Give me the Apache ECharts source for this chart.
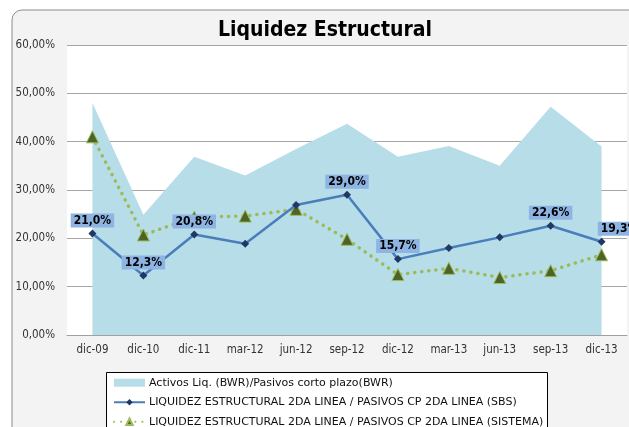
<!DOCTYPE html>
<html>
<head>
<meta charset="utf-8">
<script src="https://cdn.jsdelivr.net/npm/echarts@6/dist/echarts.min.js"></script>
<style>
  html, body { margin: 0; padding: 0; background: #fff; }
  #liq_chart { width: 629px; height: 427px; }
</style>
</head>
<body>
<div id="liq_chart"></div>
<script>
// Periods on the x axis
const periods = ['dic-09', 'dic-10', 'dic-11', 'mar-12', 'jun-12', 'sep-12', 'dic-12', 'mar-13', 'jun-13', 'sep-13', 'dic-13'];
// Activos Liq. (BWR)/Pasivos corto plazo(BWR) - shaded area
const activosBwr = [48.0, 24.9, 36.9, 33.0, 38.5, 43.7, 36.9, 39.1, 35.0, 47.2, 39.0];
// SBS line
const liqSbs = [21.0, 12.3, 20.8, 18.9, 26.9, 29.0, 15.7, 18.0, 20.2, 22.6, 19.3];
// Sistema line
const liqSistema = [41.0, 20.7, 24.4, 24.6, 26.0, 19.8, 12.5, 13.8, 11.9, 13.3, 16.6];
// which SBS points carry a value label
const labelled = [true, true, true, false, false, true, true, false, false, true, true];

const yTicks = { min: 0, max: 60, step: 10 };

const FONT = "'DejaVu Sans Condensed', 'DejaVu Sans', sans-serif";
const pct = (v, d) => v.toFixed(d).replace('.', ',') + '%';

const names = [
    'Activos Liq. (BWR)/Pasivos corto plazo(BWR)',
    'LIQUIDEZ ESTRUCTURAL 2DA LINEA / PASIVOS CP 2DA LINEA (SBS)',
    'LIQUIDEZ ESTRUCTURAL 2DA LINEA / PASIVOS CP 2DA LINEA (SISTEMA)'
];

// SBS points, labels only where the original shows them
let sbsData = liqSbs.map((v, i) => {
    let pt = { value: v };
    if (!labelled[i]) pt.label = { show: false };
    if (i === periods.length - 1) pt.label = { show: true, offset: [18, 0] };
    return pt;
});

const option = {
    animation: false,
    backgroundColor: '#fff',
    graphic: [
        {   // chart frame
            type: 'rect', z: -10,
            shape: { x: 12, y: 10, width: 660, height: 460, r: 10 },
            style: { fill: '#f3f3f3', stroke: '#8c8c8c', lineWidth: 1 }
        },
        {   // legend box
            type: 'rect', z: 5,
            shape: { x: 106.5, y: 372.5, width: 441, height: 80 },
            style: { fill: '#fff', stroke: '#000', lineWidth: 1 }
        }
    ],
    title: {
        text: 'Liquidez Estructural',
        left: 325, top: 20, padding: 0, textAlign: 'center',
        textStyle: { fontFamily: FONT, fontSize: 21, fontWeight: 'bold', color: '#000' }
    },
    legend: {
        orient: 'vertical',
        left: 113, top: 376, height: 90, padding: 0, z: 10,
        itemWidth: 31, itemHeight: 8, itemGap: 6,
        textStyle: {
            fontFamily: "'DejaVu Sans', sans-serif", fontSize: 11, color: '#111',
            lineHeight: 13.5, padding: [0, 0, 0, -1]
        },
        data: [
            { name: names[0], icon: 'rect', itemStyle: { color: '#b7dde8' } },
            { name: names[1] },
            { name: names[2] }
        ]
    },
    grid: {
        left: 67, right: 2, top: 45, bottom: 92,
        show: true, backgroundColor: '#fff', borderWidth: 0
    },
    xAxis: {
        type: 'category',
        data: periods,
        boundaryGap: true,
        axisLine: { lineStyle: { color: '#a0a0a0', width: 1 } },
        axisTick: { show: false },
        axisLabel: { fontFamily: FONT, fontSize: 11.5, color: '#333', margin: 9 }
    },
    yAxis: {
        type: 'value',
        min: yTicks.min, max: yTicks.max, interval: yTicks.step,
        axisLine: { show: false },
        axisTick: { show: false },
        splitLine: { lineStyle: { color: '#a6a6a6', width: 1 } },
        axisLabel: {
            fontFamily: FONT, fontSize: 11.5, color: '#333', margin: 12,
            formatter: v => pct(v, 2)
        }
    },
    series: [
        {
            name: names[0],
            type: 'line',
            data: activosBwr,
            symbol: 'none',
            z: 1,
            itemStyle: { color: '#b7dde8' },
            lineStyle: { width: 0 },
            areaStyle: { color: '#b7dde8', opacity: 1 }
        },
        {
            name: names[2],
            type: 'line',
            data: liqSistema,
            symbol: 'triangle',
            symbolSize: 12,
            z: 3,
            itemStyle: { color: '#4f6228', borderColor: '#9bbb59', borderWidth: 1 },
            lineStyle: { color: '#9bbb59', width: 3.5, type: [0.1, 7], cap: 'round' }
        },
        {
            name: names[1],
            type: 'line',
            data: sbsData,
            symbol: 'diamond',
            symbolSize: 8,
            z: 4,
            itemStyle: { color: '#1f3864' },
            lineStyle: { color: '#4a7ebb', width: 2.5 },
            label: {
                show: true,
                position: 'top',
                distance: 2,
                fontFamily: FONT, fontSize: 12, fontWeight: 'bold', color: '#000',
                backgroundColor: '#8db4e2',
                padding: [1, 3, 1, 3],
                lineHeight: 12,
                formatter: p => pct(p.value, 1)
            }
        }
    ]
};

let ec = echarts.init(document.getElementById('liq_chart'), null, { renderer: 'canvas' });
ec.setOption(option);
</script>
</body>
</html>
